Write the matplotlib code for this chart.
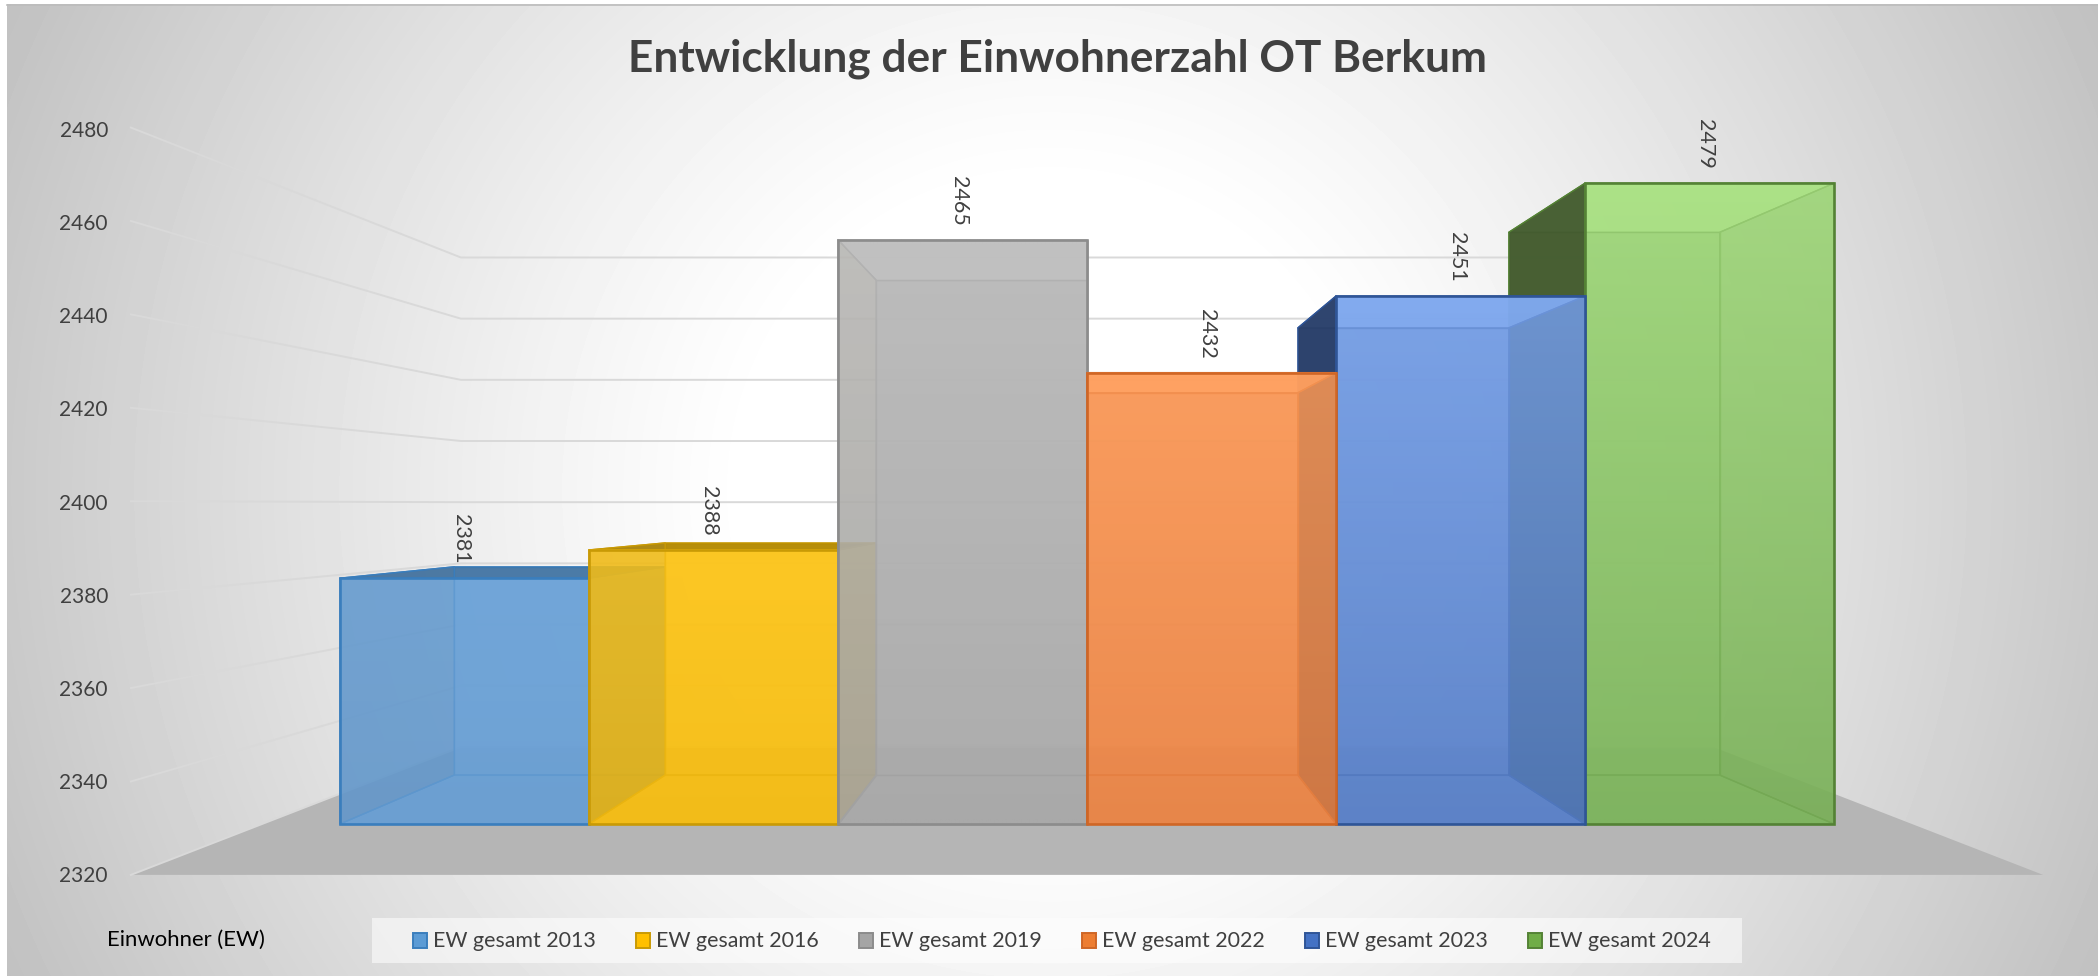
import numpy as np
import matplotlib
matplotlib.use("Agg")
import matplotlib.pyplot as plt
from matplotlib.patches import Polygon, Rectangle
from matplotlib.colors import to_rgb

plt.rcParams['font.family'] = ['Lato', 'DejaVu Sans']

# data
years = ["2013", "2016", "2019", "2022", "2023", "2024"]
einwohner = [2381, 2388, 2465, 2432, 2451, 2479]
y_ticks = [2320, 2340, 2360, 2380, 2400, 2420, 2440, 2460, 2480]
title = "Entwicklung der Einwohnerzahl OT Berkum"

# styles, one per bar
col_top = ["#6ea5da", "#ffc81f", "#c0c0c0", "#ffa05f", "#80a9ef", "#abe285"]
col_bot = ["#6a9fd3", "#f5bd14", "#a9a9a9", "#ea8547", "#5a81c8", "#7eb45e"]
col_edge = ["#3a7ebd", "#c99a05", "#8c8c8c", "#cf6626", "#2f5597", "#548235"]
col_dark = ["#3f6f9c", "#a88000", "#8f8a78", "#b35a20", "#2a3f68", "#445a30"]
col_side = ["#3f6f9c", "#a88000", "#8f8a78", "#b35a20", "#2a4f98", "#5a9a30"]
col_leg = ["#5b9bd5", "#ffc000", "#a5a5a5", "#ed7d31", "#4472c4", "#70ad47"]

W, H = 2098, 976
fig = plt.figure(figsize=(W / 100, H / 100), dpi=100)
ax = fig.add_axes([0, 0, 1, 1])

# perspective: s is the scale of a depth plane (1 = front of the bars)
CX, VY, BASE, UX, UY = 1087, 504, 320, 249, 4.03
S_BAR, S_WALL, S_FLOOR = 0.847, 0.759, 1.159
XW = 3.313  # half width of the floor


def proj(x, v, s):
    return CX + s * UX * x, VY + s * (BASE - (v - y_ticks[0]) * UY)


def quad(pts, face, edge=None, alpha=1.0, lw=1.0, z=2):
    ax.add_patch(Polygon(pts, closed=True, facecolor=to_rgb(face) + (alpha,),
                         edgecolor=edge if edge else "none", linewidth=lw,
                         joinstyle="round", zorder=z))


# background
yy, xx = np.mgrid[0:H, 0:W]
d = np.hypot(xx - 1050, yy - 490)
g = (255 - 62 * (np.clip(d - 300, 0, None) / 850) ** 1.15) / 255
ax.imshow(g, cmap="gray", vmin=0, vmax=1, extent=[0, W, H, 0], aspect="auto", zorder=0)
ax.add_patch(Rectangle((0, 0), 7, H, facecolor="white", edgecolor="none", zorder=1))
ax.add_patch(Rectangle((0, 0), W, 4, facecolor="white", edgecolor="none", zorder=1))
ax.plot([7, W], [4.5, 4.5], color="#bcbcbc", lw=1.2, zorder=1)

# floor
v0 = y_ticks[0]
quad([proj(-XW, v0, S_FLOOR), proj(XW, v0, S_FLOOR), proj(XW, v0, S_WALL), proj(-XW, v0, S_WALL)],
     "#b5b5b5", z=1.1)

# gridlines, back wall and left wall
for t in y_ticks:
    p0 = proj(-XW, t, S_FLOOR)
    p1 = proj(-XW, t, S_WALL)
    p2 = proj(XW, t, S_WALL)
    ax.plot([p0[0], p1[0], p2[0]], [p0[1], p1[1], p2[1]], color="#d9d9d9", lw=1.4, zorder=1.2)
    ax.text(108, np.interp(t, [y_ticks[0], y_ticks[-1]], [876, 131]), str(t), ha="right", va="center",
            fontsize=15, color="#404040")

# bars, from the outside to the middle so the inner ones sit on top
for i in [0, 1, 2, 5, 4, 3]:
    v = einwohner[i]
    x0, x1 = i - 3, i - 2
    e = col_edge[i]
    z = 2 + [0, 1, 2, 5, 4, 3].index(i)
    back = [proj(x0, v0, S_BAR), proj(x1, v0, S_BAR), proj(x1, v, S_BAR), proj(x0, v, S_BAR)]
    quad(back, col_bot[i], e, alpha=0.86, z=z)
    quad([proj(x0, v0, 1), proj(x1, v0, 1), proj(x1, v0, S_BAR), proj(x0, v0, S_BAR)],
         col_bot[i], e, alpha=0.86, z=z)
    # top, seen from above on the low bars and from below on the high ones
    top = [proj(x0, v, 1), proj(x1, v, 1), proj(x1, v, S_BAR), proj(x0, v, S_BAR)]
    if v < 2400:
        quad(top, col_dark[i], e, alpha=0.8, z=z)
    else:
        quad(top, col_top[i], e, alpha=0.9, z=z)
    # side faces that face the camera
    if x0 < 0:
        quad([proj(x1, v0, 1), proj(x1, v, 1), proj(x1, v, S_BAR), proj(x1, v0, S_BAR)],
             col_dark[i], e, alpha=0.2, z=z)
        quad([proj(x0, v0, 1), proj(x0, v, 1), proj(x0, v, S_BAR), proj(x0, v0, S_BAR)],
             col_dark[i], e, alpha=0.6, z=z)
    else:
        quad([proj(x0, v0, 1), proj(x0, v, 1), proj(x0, v, S_BAR), proj(x0, v0, S_BAR)],
             col_dark[i], e, alpha=0.95, z=z)
        quad([proj(x1, v0, 1), proj(x1, v, 1), proj(x1, v, S_BAR), proj(x1, v0, S_BAR)],
             col_side[i], e, alpha=0.6, z=z)
    # front with a top to bottom gradient
    fx0, fy_top = proj(x0, v, 1)
    fx1, fy_bot = proj(x1, v0, 1)
    grad = np.linspace(0, 1, 64)[:, None, None]
    img = np.array(to_rgb(col_top[i]))[None, None, :] * (1 - grad) + np.array(to_rgb(col_bot[i]))[None, None, :] * grad
    img = np.dstack([img, np.full((64, 1), 0.75)])
    ax.imshow(img, extent=[fx0, fx1, fy_bot, fy_top], aspect="auto", interpolation="bilinear", zorder=z + 0.5)
    ax.add_patch(Rectangle((fx0, fy_top), fx1 - fx0, fy_bot - fy_top, facecolor="none",
                           edgecolor=e, linewidth=1.9, zorder=z + 0.6))

# value labels above the bar fronts
for i, v in enumerate(einwohner):
    lx, ly = proj(i - 2.5, v, 1)
    ax.text(lx - 4, ly - 39, str(v), rotation=270, ha="center", va="center", fontsize=15.5,
            color="#404040", zorder=12)

# title and axis title
ax.text(1057, 59, title, ha="center", va="center", fontsize=31.8, fontweight="bold", color="#404040", zorder=12)
ax.text(107, 940, "Einwohner (EW)", ha="left", va="center", fontsize=15.9, color="black", zorder=12)

# legend
ax.add_patch(Rectangle((372, 918), 1370, 45, facecolor="white", alpha=0.55, edgecolor="none", zorder=11))
for i, yr in enumerate(years):
    lx = 413 + 223 * i
    ax.add_patch(Rectangle((lx, 933), 14, 15, facecolor=col_leg[i], edgecolor=col_edge[i], linewidth=1.4, zorder=12))
    ax.text(lx + 20, 941, "EW gesamt " + yr, ha="left", va="center", fontsize=15.4, color="#404040", zorder=12)

ax.set_xlim(0, W)
ax.set_ylim(H, 0)
ax.axis("off")
fig.savefig("out.png", dpi=100)
